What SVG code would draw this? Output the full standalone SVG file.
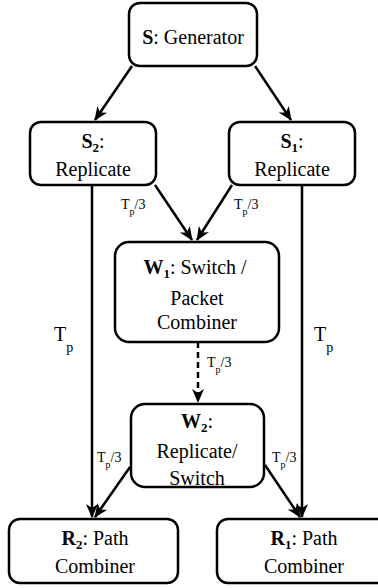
<svg xmlns="http://www.w3.org/2000/svg" width="378" height="588" viewBox="0 0 378 588" font-family="'Liberation Serif', 'Times New Roman', serif">
<style>
.box{fill:#fff;stroke:#000;stroke-width:2.5}
.c{stroke:#000;stroke-width:2.5;fill:none;marker-end:url(#ah)}
.d{stroke-dasharray:6 4}
</style>
<defs>
<marker id="ah" markerUnits="userSpaceOnUse" markerWidth="16" markerHeight="14" refX="13" refY="6" orient="auto">
<path d="M0,0 L14,6 L0,12 L4,6 z" fill="#000"/>
</marker>
</defs>
<rect width="378" height="588" fill="#fff"/>
<g id="connectors">
<line class="c" x1="132" y1="66" x2="95" y2="120"/>
<line class="c" x1="255" y1="66" x2="291" y2="120"/>
<line class="c" x1="155" y1="185" x2="192" y2="240"/>
<line class="c" x1="232" y1="185" x2="197" y2="240"/>
<line class="c" x1="92" y1="185" x2="92" y2="517"/>
<line class="c" x1="302" y1="185" x2="302" y2="517"/>
<line class="c d" x1="198" y1="342" x2="198" y2="402"/>
<line class="c" x1="130" y1="467" x2="95" y2="517"/>
<line class="c" x1="265" y1="465" x2="300" y2="517"/>
<text style="font-family:'Liberation Serif',serif;font-size:14px" x="121" y="209">T<tspan style="font-size:10px" dy="6">p</tspan><tspan dy="-6">/3</tspan></text>
<text style="font-family:'Liberation Serif',serif;font-size:14px" x="234" y="209">T<tspan style="font-size:10px" dy="6">p</tspan><tspan dy="-6">/3</tspan></text>
<text style="font-family:'Liberation Serif',serif;font-size:14px" x="207" y="367">T<tspan style="font-size:10px" dy="6">p</tspan><tspan dy="-6">/3</tspan></text>
<text style="font-family:'Liberation Serif',serif;font-size:14px" x="97" y="462">T<tspan style="font-size:10px" dy="6">p</tspan><tspan dy="-6">/3</tspan></text>
<text style="font-family:'Liberation Serif',serif;font-size:14px" x="272" y="462">T<tspan style="font-size:10px" dy="6">p</tspan><tspan dy="-6">/3</tspan></text>
<text style="font-family:'Liberation Serif',serif;font-size:20px" x="54" y="341">T<tspan style="font-size:14px" dy="11">p</tspan></text>
<text style="font-family:'Liberation Serif',serif;font-size:20px" x="314" y="341">T<tspan style="font-size:14px" dy="11">p</tspan></text>
</g>
<g id="S">
<rect class="box" x="129" y="3" width="128" height="63" rx="11"/>
<text style="font-family:'Liberation Serif',serif;font-size:20px" text-anchor="middle" x="193" y="44"><tspan font-weight="bold">S</tspan>: Generator</text>
</g>
<g id="S2">
<rect class="box" x="30" y="122" width="126" height="63" rx="11"/>
<text style="font-family:'Liberation Serif',serif;font-size:20px" text-anchor="middle" x="93" y="148"><tspan font-weight="bold">S</tspan><tspan font-weight="bold" style="font-size:13px" dy="4">2</tspan><tspan dy="-4">:</tspan></text>
<text style="font-family:'Liberation Serif',serif;font-size:20px" text-anchor="middle" x="93" y="176">Replicate</text>
</g>
<g id="S1">
<rect class="box" x="229" y="122" width="126" height="63" rx="11"/>
<text style="font-family:'Liberation Serif',serif;font-size:20px" text-anchor="middle" x="292" y="148"><tspan font-weight="bold">S</tspan><tspan font-weight="bold" style="font-size:13px" dy="4">1</tspan><tspan dy="-4">:</tspan></text>
<text style="font-family:'Liberation Serif',serif;font-size:20px" text-anchor="middle" x="292" y="176">Replicate</text>
</g>
<g id="W1">
<rect class="box" x="115" y="242" width="164" height="100" rx="14"/>
<text style="font-family:'Liberation Serif',serif;font-size:20px" text-anchor="middle" x="195" y="274"><tspan font-weight="bold">W</tspan><tspan font-weight="bold" style="font-size:13px" dy="4">1</tspan><tspan dy="-4">: Switch /</tspan></text>
<text style="font-family:'Liberation Serif',serif;font-size:20px" text-anchor="middle" x="197" y="305">Packet</text>
<text style="font-family:'Liberation Serif',serif;font-size:20px" text-anchor="middle" x="197" y="329">Combiner</text>
</g>
<g id="W2">
<rect class="box" x="131" y="404" width="133" height="83" rx="14"/>
<text style="font-family:'Liberation Serif',serif;font-size:20px" text-anchor="middle" x="197" y="428"><tspan font-weight="bold">W</tspan><tspan font-weight="bold" style="font-size:13px" dy="4">2</tspan><tspan dy="-4">:</tspan></text>
<text style="font-family:'Liberation Serif',serif;font-size:20px" text-anchor="middle" x="197" y="458">Replicate/</text>
<text style="font-family:'Liberation Serif',serif;font-size:20px" text-anchor="middle" x="197" y="485">Switch</text>
</g>
<g id="R2">
<rect class="box" x="9" y="519" width="169" height="64" rx="11"/>
<text style="font-family:'Liberation Serif',serif;font-size:20px" text-anchor="middle" x="95" y="545"><tspan font-weight="bold">R</tspan><tspan font-weight="bold" style="font-size:13px" dy="4">2</tspan><tspan dy="-4">: Path</tspan></text>
<text style="font-family:'Liberation Serif',serif;font-size:20px" text-anchor="middle" x="95" y="573">Combiner</text>
</g>
<g id="R1">
<rect class="box" x="217" y="519" width="172" height="64" rx="11"/>
<text style="font-family:'Liberation Serif',serif;font-size:20px" text-anchor="middle" x="304" y="545"><tspan font-weight="bold">R</tspan><tspan font-weight="bold" style="font-size:13px" dy="4">1</tspan><tspan dy="-4">: Path</tspan></text>
<text style="font-family:'Liberation Serif',serif;font-size:20px" text-anchor="middle" x="304" y="573">Combiner</text>
</g>
</svg>
